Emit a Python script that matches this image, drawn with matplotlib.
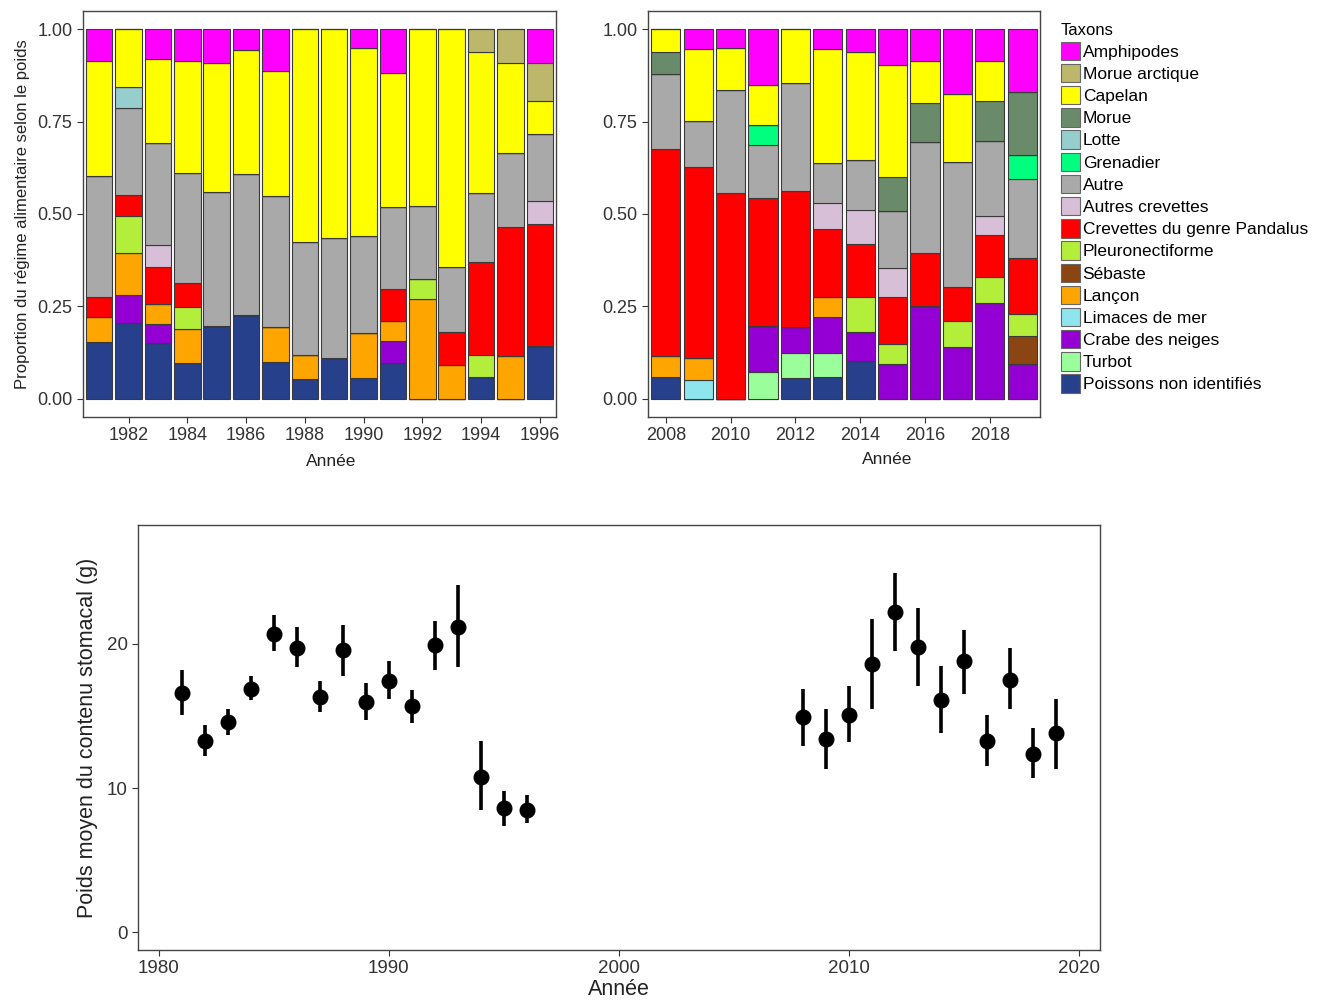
import numpy as np
import matplotlib
matplotlib.use('Agg')
import matplotlib.pyplot as plt
from matplotlib.patches import Patch

plt.rcParams['font.family'] = ['Liberation Sans', 'DejaVu Sans']

# years of the stacked bars: 1981-1996 then 2008-2019
years = list(range(1981, 1997)) + list(range(2008, 2020))

# diet proportions by weight, one list per taxon (28 values, same order as years)
poissons = [.153, .205, .151, .095, .196, .227, .100, .052, .110, .055, .097, 0, 0, .058, 0, .142,
            .058, 0, 0, 0, .057, .058, .101, 0, 0, 0, 0, 0]
turbot = [0] * 16 + [0, 0, 0, .072, .067, .066, 0, 0, 0, 0, 0, 0]
crabe = [0, .076, .051, 0, 0, 0, 0, 0, 0, 0, .058, 0, 0, 0, 0, 0,
         0, 0, 0, .125, .070, .096, .079, .094, .251, .139, .259, .094]
limaces = [0] * 16 + [0, .049, 0, 0, 0, 0, 0, 0, 0, 0, 0, 0]
lancon = [.068, .112, .055, .094, 0, 0, .093, .066, 0, .123, .054, .270, .092, 0, .115, 0,
          .057, .061, 0, 0, 0, .056, 0, 0, 0, 0, 0, 0]
sebaste = [0] * 16 + [0] * 11 + [.075]
pleuro = [0, .101, 0, .058, 0, 0, 0, 0, 0, 0, 0, .055, 0, .061, 0, 0,
          0, 0, 0, 0, 0, 0, .095, .054, 0, .072, .071, .060]
pandalus = [.054, .058, .100, .067, 0, 0, 0, 0, 0, 0, .088, 0, .088, .250, .350, .330,
            .561, .517, .557, .347, .367, .183, .143, .127, .142, .092, .113, .153]
autres_crev = [0, 0, .059, 0, 0, 0, 0, 0, 0, 0, 0, 0, 0, 0, 0, .063,
               0, 0, 0, 0, 0, .071, .092, .080, 0, 0, .052, 0]
autre = [.329, .236, .276, .296, .363, .382, .355, .305, .324, .263, .222, .196, .177, .188, .199, .181,
         .202, .125, .279, .143, .294, .108, .137, .152, .301, .337, .202, .213]
grenadier = [0] * 16 + [0, 0, 0, .054, 0, 0, 0, 0, 0, 0, 0, .066]
lotte = [0, .056] + [0] * 14 + [0] * 12
morue = [0] * 16 + [.061, 0, 0, 0, 0, 0, 0, .093, .108, 0, .109, .169]
capelan = [.310, .156, .228, .304, .349, .334, .339, .577, .566, .509, .362, .479, .643, .381, .245, .090,
           .061, .195, .114, .108, .145, .310, .292, .303, .112, .184, .108, 0]
morue_arct = [0] * 13 + [.062, .091, .102] + [0] * 12
amph = [.086, 0, .080, .086, .092, .057, .113, 0, 0, .050, .119, 0, 0, 0, 0, .092,
        0, .053, .050, .151, 0, .052, .061, .097, .086, .176, .086, .170]

# mean stomach content weight (g) with interval
years_w = list(range(1981, 1997)) + list(range(2008, 2020))
mean_w = [16.6, 13.3, 14.6, 16.9, 20.7, 19.7, 16.3, 19.6, 16.0, 17.4, 15.7, 19.9, 21.2, 10.8, 8.6, 8.5,
          14.9, 13.4, 15.1, 18.6, 22.2, 19.8, 16.1, 18.8, 13.3, 17.5, 12.4, 13.8]
low_w = [15.1, 12.2, 13.7, 16.1, 19.5, 18.4, 15.3, 17.8, 14.7, 16.2, 14.5, 18.2, 18.4, 8.5, 7.4, 7.6,
         12.9, 11.3, 13.2, 15.5, 19.5, 17.1, 13.8, 16.5, 11.5, 15.5, 10.7, 11.3]
up_w = [18.2, 14.4, 15.5, 17.8, 22.0, 21.2, 17.4, 21.3, 17.3, 18.8, 16.8, 21.6, 24.1, 13.3, 9.8, 9.5,
        16.9, 15.5, 17.1, 21.7, 24.9, 22.5, 18.5, 21.0, 15.1, 19.7, 14.2, 16.2]

# stacking order bottom -> top
taxa = [
    ('Poissons non identifiés', poissons, '#27408B'),
    ('Turbot', turbot, '#9AFF9A'),
    ('Crabe des neiges', crabe, '#9400D3'),
    ('Limaces de mer', limaces, '#8EE5EE'),
    ('Lançon', lancon, '#FFA500'),
    ('Sébaste', sebaste, '#8B4513'),
    ('Pleuronectiforme', pleuro, '#B3EE3A'),
    ('Crevettes du genre Pandalus', pandalus, '#FF0000'),
    ('Autres crevettes', autres_crev, '#D8BFD8'),
    ('Autre', autre, '#A9A9A9'),
    ('Grenadier', grenadier, '#00FF7F'),
    ('Lotte', lotte, '#96CDCD'),
    ('Morue', morue, '#698B69'),
    ('Capelan', capelan, '#FFFF00'),
    ('Morue arctique', morue_arct, '#BDB76B'),
    ('Amphipodes', amph, '#FF00FF'),
]

W, H = 1333, 1001
fig = plt.figure(figsize=(W / 100, H / 100), dpi=100)

def px_axes(x0, y0, x1, y1):
    return fig.add_axes([x0 / W, 1 - y1 / H, (x1 - x0) / W, (y1 - y0) / H])

ax1 = px_axes(83, 11, 556, 417)
ax2 = px_axes(648, 11, 1040, 417)
ax3 = px_axes(138, 525, 1100, 950)

yrs = np.array(years)
for ax, (ya, yb) in [(ax1, (1981, 1996)), (ax2, (2008, 2019))]:
    m = (yrs >= ya) & (yrs <= yb)
    bottom = np.zeros(m.sum())
    for name, vals, col in taxa:
        v = np.array(vals)[m]
        ax.bar(yrs[m], v, width=0.9, bottom=bottom, color=col,
               edgecolor='#3a3a3a', linewidth=0.8)
        bottom += v
    ax.set_ylim(-0.05, 1.05)
    ax.set_xlim(ya - 0.55, yb + 0.55)
    ax.set_xticks(range(ya + (1 if ya == 1981 else 0), yb + 1, 2))
    ax.set_yticks([0, .25, .5, .75, 1])
    ax.set_yticklabels(['0.00', '0.25', '0.50', '0.75', '1.00'])
    ax.tick_params(labelsize=13, colors='#333333', length=4, width=0.8)
    for s in ax.spines.values():
        s.set_color('#444444')
        s.set_linewidth(1.0)

ax1.set_xlabel('Année', fontsize=12.5, color='#222222')
ax2.set_xlabel('Année', fontsize=12.5, color='#222222')
ax1.xaxis.set_label_coords(0.524, -0.092)
ax2.xaxis.set_label_coords(0.61, -0.085)
ax1.set_ylabel('Proportion du régime alimentaire selon le poids', fontsize=12,
               color='#222222', labelpad=5)

handles = [Patch(facecolor=col, edgecolor='#666666', linewidth=0.8, label=name)
           for name, vals, col in taxa[::-1]]
fig.legend(handles=handles, loc='upper left', bbox_to_anchor=(1054 / W, 1 - 16 / H),
           frameon=False, title='Taxons', title_fontsize=12, fontsize=12.5,
           handlelength=1.1, handleheight=1.25, labelspacing=0.22,
           handletextpad=0.15, alignment='left', borderaxespad=0)

# bottom panel: mean weight with intervals
ax3.vlines(years_w, low_w, up_w, color='black', linewidth=2.6)
ax3.plot(years_w, mean_w, 'o', color='black', markersize=10.5)
ax3.set_xlim(1979.1, 2020.9)
ax3.set_ylim(-1.23, 28.25)
ax3.set_xticks([1980, 1990, 2000, 2010, 2020])
ax3.set_yticks([0, 10, 20])
ax3.tick_params(labelsize=13.5, colors='#333333', length=4, width=0.8)
ax3.set_xlabel('Année', fontsize=15.5, color='#222222', labelpad=1)
ax3.set_ylabel('Poids moyen du contenu stomacal (g)', fontsize=15.5, color='#222222', labelpad=6)
for s in ax3.spines.values():
    s.set_color('#444444')
    s.set_linewidth(1.0)

plt.savefig('out.png', dpi=100)
plt.close()
